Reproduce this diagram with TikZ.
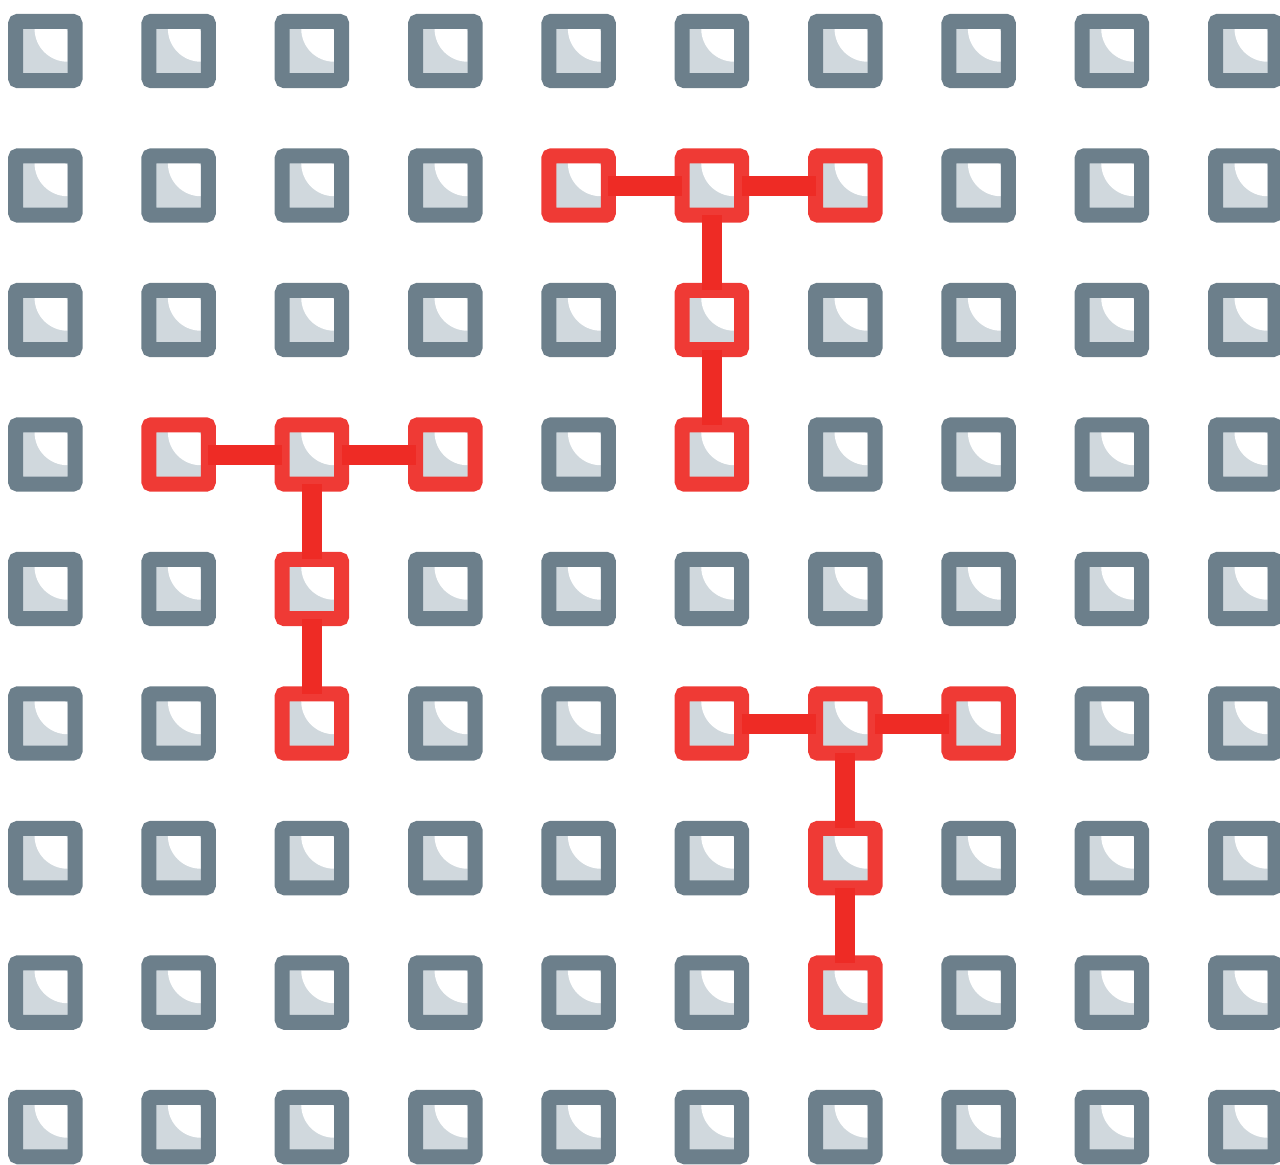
\documentclass[tikz,border=0pt]{standalone}
\usetikzlibrary{calc}
\definecolor{gborder}{HTML}{6C7F8B}
\definecolor{gfill}{HTML}{D0D8DD}
\definecolor{rborder}{HTML}{EF3A35}
\definecolor{rconn}{HTML}{EE2B25}
\tikzset{
  cellbase/.style={rectangle, minimum size=44.6pt, inner sep=0pt, outer sep=0pt,
    line width=11.25pt, rounded corners=2pt, fill=gfill,
    path picture={
      \begin{scope}
      \clip ([xshift=-16.7pt,yshift=-16.7pt]path picture bounding box.center) rectangle
            ([xshift=16.7pt,yshift=16.7pt]path picture bounding box.center);
      \fill[white] ([xshift=16.7pt,yshift=16.7pt]path picture bounding box.center) circle (24.75pt);
      \end{scope}
    }},
  graysq/.style={cellbase, draw=gborder},
  redsq/.style={cellbase, draw=rborder},
  conn/.style={draw=rconn, line width=15pt}
}
\begin{document}
\begin{tikzpicture}[x=0.75pt,y=-0.75pt]
\useasboundingbox (0,0) rectangle (1280,1164);
\foreach \c in {4-1,5-1,6-1,5-2,5-3,1-3,2-3,3-3,2-4,2-5,5-5,6-5,7-5,6-6,6-7}
  {\expandafter\gdef\csname isred-\c\endcsname{}}
\foreach \i in {0,...,9} {
  \foreach \j in {0,...,8} {
    \pgfmathsetmacro\xx{45.3+133.33*\i}
    \pgfmathsetmacro\yy{51+134.5*\j}
    \ifcsname isred-\i-\j\endcsname
      \node[redsq] (n-\i-\j) at (\xx,\yy) {};
    \else
      \node[graysq] (n-\i-\j) at (\xx,\yy) {};
    \fi
  }
}
% top T
\draw[conn] (n-4-1.east) -- (n-5-1.west);
\draw[conn] (n-5-1.east) -- (n-6-1.west);
\draw[conn] (n-5-1.south) -- (n-5-2.north);
\draw[conn] (n-5-2.south) -- (n-5-3.north);
% left T
\draw[conn] (n-1-3.east) -- (n-2-3.west);
\draw[conn] (n-2-3.east) -- (n-3-3.west);
\draw[conn] (n-2-3.south) -- (n-2-4.north);
\draw[conn] (n-2-4.south) -- (n-2-5.north);
% bottom T
\draw[conn] (n-5-5.east) -- (n-6-5.west);
\draw[conn] (n-6-5.east) -- (n-7-5.west);
\draw[conn] (n-6-5.south) -- (n-6-6.north);
\draw[conn] (n-6-6.south) -- (n-6-7.north);
\end{tikzpicture}
\end{document}
